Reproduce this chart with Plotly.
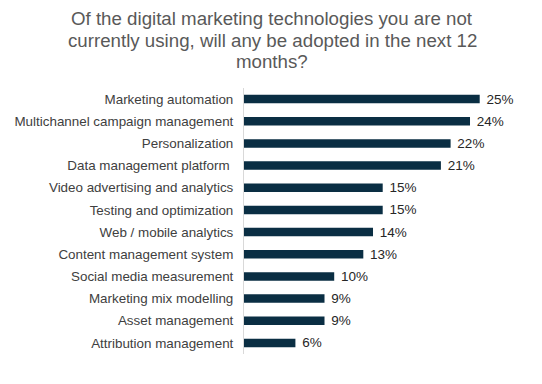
import plotly.graph_objects as go

categories = [
    "Marketing automation",
    "Multichannel campaign management",
    "Personalization",
    "Data management platform\u00a0",
    "Video advertising and analytics",
    "Testing and optimization",
    "Web / mobile analytics",
    "Content management system",
    "Social media measurement",
    "Marketing mix modelling",
    "Asset management",
    "Attribution management",
]
values = [25, 24, 22, 21, 15, 15, 14, 13, 10, 9, 9, 6]
labels = ["\u00a0%d%%" % v for v in values]

title_lines = [
    "Of the digital marketing technologies you are not",
    "currently using, will any be adopted in the next 12",
    "months?",
]

FONT = "Liberation Sans, Arial, sans-serif"

# page body has an 8px margin in the browser; figure is sized to fit inside
W, H = 534, 376
L, T, B, R = 236, 80, 30, 20
PW, PH = W - L - R, H - T - B

fig = go.Figure(go.Bar(
    x=values,
    y=categories,
    orientation="h",
    marker=dict(color="#0a2e43", line=dict(width=0)),
    text=labels,
    textposition="outside",
    constraintext="none",
    outsidetextfont=dict(family=FONT, size=13.5, color="#262626"),
    cliponaxis=False,
    hoverinfo="skip",
))

centers = [10.8, 32.2, 53.6]
for line, c in zip(title_lines, centers):
    fig.add_annotation(
        text=line,
        xref="paper", yref="paper",
        x=(264 - L) / PW, y=1 + (T - c) / PH,
        xanchor="center", yanchor="middle",
        showarrow=False,
        align="center",
        font=dict(family=FONT, size=18.7, color="#595959"),
    )

fig.update_layout(
    width=W,
    height=H,
    margin=dict(l=L, r=R, t=T, b=B, autoexpand=False),
    paper_bgcolor="white",
    plot_bgcolor="white",
    bargap=0.62,
    showlegend=False,
    xaxis=dict(
        range=[0.7, 0.7 + PW / 9.7],
        showgrid=False,
        zeroline=False,
        showticklabels=False,
        showline=False,
        ticks="",
        fixedrange=True,
        automargin=False,
    ),
    yaxis=dict(
        categoryorder="array",
        categoryarray=categories,
        autorange="reversed",
        showgrid=False,
        zeroline=False,
        showline=True,
        linecolor="#d9d9d9",
        linewidth=1,
        ticks="outside",
        ticklen=7,
        tickcolor="rgba(0,0,0,0)",
        automargin=False,
        tickfont=dict(family=FONT, size=13.4, color="#404040"),
    ),
)

fig.write_html("out.html")
